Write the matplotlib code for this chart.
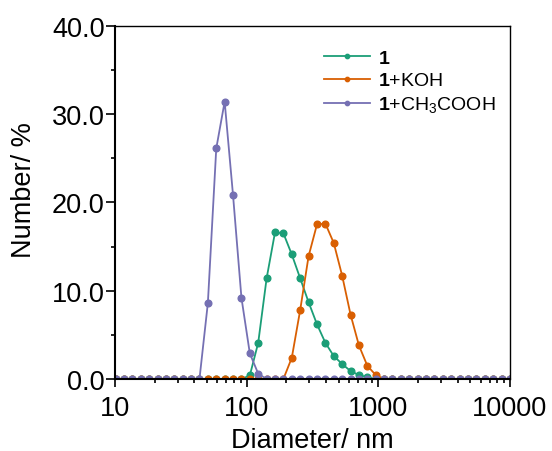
import matplotlib
matplotlib.use("Agg")
import matplotlib.pyplot as plt
from matplotlib.ticker import LogLocator, MultipleLocator, FormatStrFormatter, NullFormatter

plt.rcParams["font.family"] = ["Liberation Sans", "DejaVu Sans"]
plt.rcParams["mathtext.fontset"] = "custom"
plt.rcParams["mathtext.rm"] = "Liberation Sans"
plt.rcParams["mathtext.bf"] = "Liberation Sans:bold"
plt.rcParams["mathtext.it"] = "Liberation Sans:italic"

# size classes (nm)
diameter = [10.1, 11.7, 13.54, 15.69, 18.17, 21.04, 24.36, 28.21, 32.67, 37.84,
            43.82, 50.75, 58.77, 68.06, 78.82, 91.28, 105.7, 122.4, 141.8, 164.2,
            190.1, 220.2, 255.0, 295.3, 342.0, 396.1, 458.7, 531.2, 615.1, 712.4,
            825.0, 955.4, 1106, 1281, 1484, 1718, 1990, 2305, 2669, 3091,
            3580, 4145, 4801, 5560, 6439, 7456, 8635, 10000]

# number distribution (%)
num_1 = [0, 0, 0, 0, 0, 0, 0, 0, 0, 0,
         0, 0, 0, 0, 0, 0, 0.4, 4.1, 11.4, 16.6,
         16.5, 14.1, 11.4, 8.7, 6.2, 4.1, 2.6, 1.7, 0.9, 0.45,
         0.2, 0, 0, 0, 0, 0, 0, 0, 0, 0,
         0, 0, 0, 0, 0, 0, 0, 0]
num_koh = [0, 0, 0, 0, 0, 0, 0, 0, 0, 0,
           0, 0, 0, 0, 0, 0, 0, 0, 0, 0,
           0, 2.4, 7.8, 13.9, 17.5, 17.6, 15.4, 11.7, 7.3, 3.8,
           1.5, 0.45, 0, 0, 0, 0, 0, 0, 0, 0,
           0, 0, 0, 0, 0, 0, 0, 0]
num_acoh = [0, 0, 0, 0, 0, 0, 0, 0, 0, 0,
            0, 8.6, 26.1, 31.4, 20.8, 9.2, 2.9, 0.6, 0, 0,
            0, 0, 0, 0, 0, 0, 0, 0, 0, 0,
            0, 0, 0, 0, 0, 0, 0, 0, 0, 0,
            0, 0, 0, 0, 0, 0, 0, 0]

labels = [r"$\mathbf{1}$", r"$\mathbf{1}$+KOH", r"$\mathbf{1}$+CH$_3$COOH"]
colors = ["#1b9e77", "#d95f02", "#7570b3"]

fig = plt.figure(figsize=(5.52, 4.52), dpi=100)
ax = fig.add_axes([0.2083, 0.1593, 0.7156, 0.7816])

for ys, lab, c in zip([num_1, num_koh, num_acoh], labels, colors):
    ax.plot(diameter, ys, color=c, lw=1.3, marker="o", ms=4.8,
            mec=c, mfc=c, label=lab)

ax.set_xscale("log")
ax.set_xlim(10, 10000)
ax.set_ylim(0, 40)

ax.xaxis.set_minor_locator(LogLocator(base=10, subs=range(2, 10), numticks=10))
ax.xaxis.set_minor_formatter(NullFormatter())
ax.set_xticks([10, 100, 1000, 10000])
ax.set_xticklabels(["10", "100", "1000", "10000"])

ax.yaxis.set_major_locator(MultipleLocator(10))
ax.yaxis.set_minor_locator(MultipleLocator(5))
ax.yaxis.set_major_formatter(FormatStrFormatter("%.1f"))

ax.tick_params(axis="both", which="major", direction="out", labelsize=19.5, width=1.2)
ax.tick_params(axis="both", which="minor", direction="out", width=1.2, length=3)
ax.tick_params(axis="x", which="major", length=5.5, pad=6)
ax.tick_params(axis="y", which="major", length=6.5, pad=1)

for side in ["left", "bottom"]:
    ax.spines[side].set_linewidth(1.5)
for side in ["top", "right"]:
    ax.spines[side].set_linewidth(1.0)

ax.set_xlabel("Diameter/ nm", fontsize=19.5, labelpad=4)
ax.set_ylabel("Number/ %", fontsize=19.5)
ax.yaxis.set_label_coords(-0.197, 0.537)

ax.legend(loc="upper left", bbox_to_anchor=(0.509, 0.955), frameon=False,
          fontsize=14, handlelength=2.4, handletextpad=0.4, labelspacing=0.25,
          markerscale=0.65, borderaxespad=0)

fig.savefig("out.png", dpi=100)
